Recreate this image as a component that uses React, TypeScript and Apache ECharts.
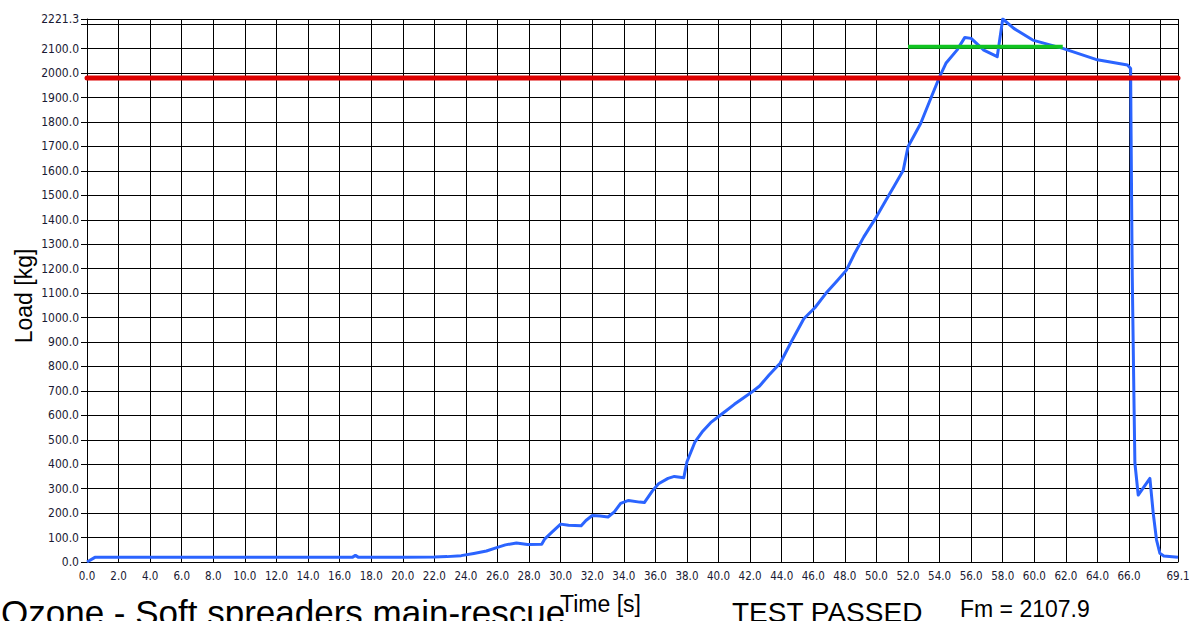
import React, { useEffect, useRef } from "react";
import * as echarts from "echarts";

// ---- data ----
const xMin = 0;
const xMax = 69.1;
const xInterval = 2;
const yMin = 0;
const yMax = 2221.3;
const yInterval = 100;
const hiddenXTick = 68;
const hiddenYTick = 2200;

const thresholdLoad = 1980;
const fmValue = 2107.9;
const fmStart = 52.0;
const fmEnd = 61.8;

// [time s, load kg]
const loadCurve: [number, number][] = [
  [0, 0], [0.5, 19], [16.8, 19], [17.0, 27], [17.2, 19], [20.0, 19], [22.0, 20],
  [22.8, 22], [23.7, 26], [24.5, 35], [25.3, 45], [26.0, 60], [26.5, 70], [27.2, 78],
  [27.9, 72], [28.8, 73], [29.0, 95], [29.5, 125], [30.0, 155], [30.5, 150], [31.3, 148],
  [31.6, 170], [32.0, 190], [32.5, 188], [33.0, 184], [33.4, 205], [33.8, 240], [34.3, 252],
  [35.0, 245], [35.3, 243], [35.8, 290], [36.2, 320], [36.8, 342], [37.2, 350], [37.8, 345],
  [38.0, 410], [38.5, 490], [39.0, 535], [39.5, 570], [40.0, 595], [40.5, 620], [41.0, 645],
  [41.5, 668], [42.0, 690], [42.6, 720], [43.2, 765], [43.9, 813], [44.6, 900], [45.4, 995],
  [46.1, 1040], [46.8, 1099], [47.5, 1150], [48.1, 1194], [48.6, 1260], [49.2, 1330],
  [50.0, 1412], [50.6, 1480], [51.1, 1535], [51.7, 1603], [52.0, 1699], [52.8, 1794],
  [53.4, 1890], [54.0, 1985], [54.4, 2040], [55.1, 2094], [55.6, 2146], [56.0, 2142],
  [56.8, 2094], [57.65, 2067], [58.0, 2221.3], [58.7, 2183], [59.9, 2135], [61.8, 2101],
  [63.9, 2056], [65.9, 2033], [66.1, 2019], [66.12, 1816], [66.2, 1182], [66.32, 622],
  [66.37, 405], [66.58, 274], [67.32, 342], [67.53, 200], [67.74, 90], [67.95, 36],
  [68.2, 25], [69.1, 19],
];

const chartTitle = "Ozone - Soft spreaders main-rescue";
const xAxisName = "Time [s]";
const yAxisName = "Load [kg]";
const resultText = "TEST PASSED";
const fmText = "Fm = " + fmValue.toFixed(1);

export default function App() {
  const ref = useRef<HTMLDivElement>(null);

  useEffect(() => {
    if (!ref.current) return;
    const chart = echarts.init(ref.current, null, { renderer: "svg" });
    const labelColor = "#1a1a33";
    const tickFont = "DejaVu Sans Condensed";
    const textFont = "Liberation Sans";
    chart.setOption({
      animation: false,
      backgroundColor: "#ffffff",
      grid: {
        left: 87,
        right: 11,
        top: 19,
        bottom: 59,
        containLabel: false,
        outerBoundsMode: "none",
      },
      xAxis: {
        type: "value",
        min: xMin,
        max: xMax,
        interval: xInterval,
        axisLine: { show: true, onZero: false, lineStyle: { color: "#000", width: 1 } },
        axisTick: { show: false },
        splitLine: { show: true, lineStyle: { color: "#000", width: 1 } },
        axisLabel: {
          showMinLabel: true,
          showMaxLabel: true,
          margin: 8,
          color: labelColor,
          fontFamily: tickFont,
          fontSize: 11.5,
          formatter: (v: number) => (Math.abs(v - hiddenXTick) < 1e-9 ? "" : v.toFixed(1)),
        },
      },
      yAxis: {
        type: "value",
        min: yMin,
        max: yMax,
        interval: yInterval,
        axisLine: { show: true, lineStyle: { color: "#000", width: 1 } },
        axisTick: { show: true, length: 6, lineStyle: { color: "#000" } },
        splitLine: { show: true, lineStyle: { color: "#000", width: 1 } },
        axisLabel: {
          showMinLabel: true,
          showMaxLabel: true,
          margin: 8,
          color: labelColor,
          fontFamily: tickFont,
          fontSize: 12,
          formatter: (v: number) => (Math.abs(v - hiddenYTick) < 1e-9 ? "" : v.toFixed(1)),
        },
      },
      series: [
        {
          name: "Load",
          type: "line",
          data: loadCurve,
          showSymbol: false,
          symbol: "none",
          lineStyle: { color: "#2b64ff", width: 3, join: "round" },
          z: 3,
        },
        {
          name: "Threshold",
          type: "line",
          data: [[xMin, thresholdLoad], [xMax, thresholdLoad]],
          showSymbol: false,
          symbol: "none",
          clip: false,
          lineStyle: { color: "#dd0000", width: 5, cap: "round" },
          z: 4,
        },
        {
          name: "Fm",
          type: "line",
          data: [[fmStart, fmValue], [fmEnd, fmValue]],
          showSymbol: false,
          symbol: "none",
          lineStyle: { color: "#11c422", width: 4 },
          z: 5,
        },
      ],
      graphic: [
        {
          type: "text",
          x: 24,
          y: 296,
          rotation: Math.PI / 2,
          style: {
            text: yAxisName,
            fontFamily: textFont,
            fontSize: 23,
            fill: "#000",
            align: "center",
            verticalAlign: "middle",
          },
        },
        {
          type: "text",
          x: 1,
          y: 612,
          style: {
            text: chartTitle,
            fontFamily: textFont,
            fontSize: 35,
            fill: "#000",
            align: "left",
            verticalAlign: "middle",
          },
        },
        {
          type: "text",
          x: 560,
          y: 604,
          style: {
            text: xAxisName,
            fontFamily: textFont,
            fontSize: 23,
            fill: "#000",
            align: "left",
            verticalAlign: "middle",
          },
        },
        {
          type: "text",
          x: 732,
          y: 612,
          style: {
            text: resultText,
            fontFamily: textFont,
            fontSize: 28,
            fill: "#000",
            align: "left",
            verticalAlign: "middle",
          },
        },
        {
          type: "text",
          x: 960,
          y: 609,
          style: {
            text: fmText,
            fontFamily: textFont,
            fontSize: 23,
            fill: "#000",
            align: "left",
            verticalAlign: "middle",
          },
        },
      ],
    });
    return () => chart.dispose();
  }, []);

  return (
    <div
      ref={ref}
      style={{ position: "absolute", left: 0, top: 0, width: 1189, height: 621 }}
    />
  );
}
